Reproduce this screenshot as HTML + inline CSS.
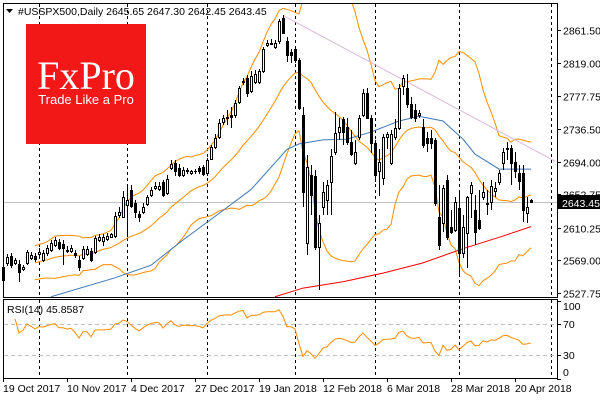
<!DOCTYPE html>
<html><head><meta charset="utf-8"><style>
body{margin:0;background:#fff;}
#wrap{position:relative;width:600px;height:400px;overflow:hidden;font-family:"Liberation Sans",sans-serif;}
svg{position:absolute;left:0;top:0;}
</style></head><body>
<div id="wrap">
<svg id="c" width="600" height="400" xmlns="http://www.w3.org/2000/svg" shape-rendering="crispEdges"></svg>
</div>
<script>
// ---- data (prices) ----
const opens=[2561,2566,2575,2566,2565,2558,2566,2572,2575,2577,2570,2579,2582,2589,2593,2590,2581,2581,2579,2570,2572,2577,2581,2580,2595,2594,2596,2599,2600,2627,2624,2640,2659,2642,2628,2631,2641,2652,2661,2660,2668,2655,2687,2693,2687,2678,2682,2680,2682,2687,2688,2680,2698,2713,2726,2745,2750,2753,2753,2770,2795,2800,2784,2796,2796,2810,2843,2844,2840,2847,2877,2848,2833,2838,2824,2754,2591,2678,2676,2586,2637,2646,2668,2707,2732,2748,2739,2720,2693,2726,2754,2782,2750,2718,2682,2674,2726,2693,2726,2737,2790,2788,2767,2760,2754,2739,2725,2725,2722,2624,2617,2671,2612,2608,2636,2579,2604,2655,2633,2621,2649,2641,2643,2657,2668,2693,2711,2712,2694,2680,2680,2629,2645.65];
const closes=[2544,2574,2563,2570,2555,2561,2580,2576,2571,2580,2579,2585,2591,2595,2585,2585,2582,2585,2576,2561,2584,2584,2570,2598,2599,2599,2600,2602,2626,2630,2649,2646,2638,2630,2624,2637,2650,2659,2664,2664,2652,2673,2692,2682,2678,2684,2684,2683,2683,2682,2679,2697,2713,2725,2744,2750,2751,2751,2769,2788,2797,2782,2803,2806,2809,2837,2845,2845,2845,2873,2858,2830,2830,2824,2763,2656,2688,2652,2586,2617,2656,2665,2701,2731,2739,2732,2720,2704,2707,2750,2781,2750,2718,2678,2694,2726,2729,2730,2737,2788,2800,2767,2751,2750,2756,2716,2718,2718,2642,2589,2661,2599,2605,2643,2579,2612,2649,2665,2605,2610,2656,2642,2664,2661,2680,2707,2712,2693,2682,2670,2633,2637,2643.45];
const highs=[2567,2577,2579,2572,2569,2563,2582,2580,2579,2585,2582,2589,2595,2599,2596,2595,2588,2589,2582,2575,2588,2588,2585,2600,2602,2602,2604,2604,2630,2637,2657,2665,2665,2646,2632,2642,2652,2662,2668,2668,2671,2678,2696,2697,2692,2688,2687,2684,2685,2689,2690,2699,2716,2729,2748,2754,2760,2764,2773,2791,2800,2805,2809,2811,2812,2840,2849,2850,2849,2876,2880,2852,2838,2840,2826,2764,2703,2690,2684,2627,2668,2671,2710,2758,2750,2751,2750,2735,2722,2754,2786,2788,2754,2722,2710,2729,2732,2735,2748,2793,2805,2806,2776,2767,2760,2748,2732,2735,2725,2665,2665,2678,2633,2650,2659,2627,2651,2668,2652,2659,2668,2659,2671,2669,2684,2712,2720,2716,2707,2690,2690,2649,2647.3];
const lows=[2532,2562,2560,2563,2542,2556,2563,2569,2567,2574,2567,2575,2580,2586,2582,2563,2579,2579,2572,2556,2570,2575,2567,2577,2593,2588,2594,2598,2598,2623,2623,2599,2636,2623,2618,2628,2638,2650,2659,2657,2650,2652,2684,2676,2675,2675,2679,2678,2679,2679,2676,2676,2697,2711,2723,2741,2741,2737,2750,2768,2792,2777,2782,2793,2793,2807,2840,2842,2837,2844,2856,2821,2819,2819,2760,2637,2576,2627,2582,2532,2627,2627,2627,2703,2722,2716,2716,2702,2690,2722,2751,2748,2706,2669,2651,2665,2710,2690,2722,2735,2779,2763,2748,2745,2750,2712,2707,2710,2638,2582,2605,2595,2602,2605,2551,2572,2560,2623,2589,2608,2646,2627,2633,2649,2665,2684,2697,2665,2674,2659,2618,2617,2642.45];
// 50-period MA (blue) sampled: bar index / value
const maBlueIdx=[12,28,37,45,53,62,71,74,80,86,92,99,104,110,115,118,124,132];
const maBlueVal=[2523,2547,2563,2595,2625,2659,2710,2717,2722,2723,2732,2746,2752,2746,2723,2704,2685,2685];
// 200-period MA (red) sampled
const maRedIdx=[68,75,85,95,105,115,125,132];
const maRedVal=[2523,2534,2542,2553,2566,2584,2600,2612];
// Trendline endpoints (bar index, price)
const trendIdx=[70,138];
const trendVal=[2880,2695];
const priceTicks=[2861.50,2819.00,2777.75,2736.50,2694.00,2652.75,2610.25,2569.00,2527.75];
const rsiTicks=[100,70,30,0];
const dateLabels=["19 Oct 2017","10 Nov 2017","4 Dec 2017","27 Dec 2017","19 Jan 2018","12 Feb 2018","6 Mar 2018","28 Mar 2018","20 Apr 2018"];
const dateBars=[0,16,32,48,64,80,96,112,128];
const gridBars=[9,31,51,73,93,114,137];

const NS="http://www.w3.org/2000/svg";
const svg=document.getElementById('c');
function mk(tag,attrs,parent){const e=document.createElementNS(NS,tag);for(const k in attrs)e.setAttribute(k,attrs[k]);(parent||svg).appendChild(e);return e;}
const X=i=>3+i*4;
const Y=p=>30+(2861.5-p)*0.788;
const RY=v=>378.5-0.775*v;
const L=3,R=557,T=3,B=297,RT=299,RB=378;

// frames
let f1=mk('rect',{x:L+.5,y:T+.5,width:R-L,height:B-T,fill:'#fff',stroke:'#000'});


let f2=mk('rect',{x:L+.5,y:RT+.5,width:R-L,height:RB-RT,fill:'#fff',stroke:'#000'});



// vertical grid
gridBars.forEach(b=>{const x=Math.round(X(b))+.5;
 let g=mk('line',{x1:x,x2:x,y1:T+1,y2:B,stroke:'#000','stroke-dasharray':'3,3'});
 
 
 let g2=mk('line',{x1:x,x2:x,y1:RT+1,y2:RB,stroke:'#000','stroke-dasharray':'3,3'});
 
 
});

// price ticks
priceTicks.forEach(p=>{const y=Math.round(Y(p))+.5;
 mk('line',{x1:R,x2:R+4,y1:y,y2:y,stroke:'#000'});
 let t=mk('text',{x:563,y:y+4,'font-size':'10.5',fill:'#000'});t.textContent=p.toFixed(2);
 
 
});

// current price line
const last=closes[closes.length-1];
const cy=Math.round(Y(last))+.5;
let cl=mk('line',{x1:L+1,x2:R,y1:cy,y2:cy,stroke:'#c0c0c0'});



// Bollinger bands (20,2) from closes
const up=[],mid=[],lo=[];
for(let i=0;i<closes.length;i++){const s=closes.slice(Math.max(0,i-19),i+1);const m=s.reduce((a,b)=>a+b,0)/s.length;const sd=Math.sqrt(s.reduce((a,b)=>a+(b-m)*(b-m),0)/s.length);mid.push(m);up.push(m+2*sd);lo.push(m-2*sd);}
function poly(idx,vals,color,name,yf){const pts=idx.map((b,k)=>X(b)+','+yf(vals[k])).join(' ');let p=mk('polyline',{points:pts,fill:'none',stroke:color,'stroke-width':1,'shape-rendering':'auto'});return p;}
const clipR=mk('clipPath',{id:'cp'});mk('rect',{x:L+1,y:T+1,width:R-L-1,height:B-T-1},clipR);
const allIdx=closes.map((_,i)=>i);
const start=8;
poly(allIdx.slice(start),up.slice(start),'#ff8c00','bollinger-upper',Y).setAttribute('clip-path','url(#cp)');
poly(allIdx.slice(start),mid.slice(start),'#ff8c00','bollinger-middle',Y).setAttribute('clip-path','url(#cp)');
poly(allIdx.slice(start),lo.slice(start),'#ff8c00','bollinger-lower',Y).setAttribute('clip-path','url(#cp)');
poly(maBlueIdx,maBlueVal,'#3c78b4','moving-average-50',Y).setAttribute('clip-path','url(#cp)');
poly(maRedIdx,maRedVal,'#ff0000','moving-average-200',Y).setAttribute('clip-path','url(#cp)');
poly(trendIdx,trendVal,'#d8b8d8','trend-line',Y).setAttribute('clip-path','url(#cp)');

// candles
for(let i=0;i<closes.length;i++){
 const x=X(i);const o=Y(opens[i]),c=Y(closes[i]),h=Y(highs[i]),l=Y(lows[i]);
 const g=mk('g',{});
 
 
 mk('line',{x1:x+.5,x2:x+.5,y1:Math.round(h),y2:Math.round(l),stroke:'#000'},g);
 const top=Math.round(Math.min(o,c)),bot=Math.round(Math.max(o,c));
 const bull=closes[i]>=opens[i];
 mk('rect',{x:x-.5,y:top+.5,width:2,height:Math.max(bot-top,0.1),fill:bull?'#fff':'#000',stroke:'#000'},g);
}

// price label box
let pb=mk('rect',{x:557,y:cy-7.5,width:43,height:14,fill:'#000'});


let pt=mk('text',{x:562,y:cy+4.5,'font-size':'10.5',fill:'#fff'});pt.textContent=last.toFixed(2);

// RSI
const rsi=[];let ag=0,al=0;
for(let i=1;i<closes.length;i++){const d=closes[i]-closes[i-1];const g=Math.max(d,0),l=Math.max(-d,0);
 if(i<=14){ag+=g/14;al+=l/14;}else{ag=(ag*13+g)/14;al=(al*13+l)/14;}
 rsi.push(i>=3?100-100/(1+ag/(al||1e-9)):null);}
[70,30].forEach(v=>{let d=mk('line',{x1:L+1,x2:R,y1:Math.round(RY(v))+.5,y2:Math.round(RY(v))+.5,stroke:'#c0c0c0','stroke-dasharray':'4,3'});});
const ri=[],rv=[];rsi.forEach((v,k)=>{if(v!==null){ri.push(k+1);rv.push(v);}});
poly(ri,rv,'#ff8c00','rsi-line',RY);
const rsiLab={100:310,70:328,30:359,0:376};
rsiTicks.forEach(v=>{const y=Math.round(RY(v))+.5;mk('line',{x1:R,x2:R+4,y1:y,y2:y,stroke:'#000'});
 let t=mk('text',{x:563,y:rsiLab[v],'font-size':'10.5'});t.textContent=String(v);
 
 });
let rt=mk('text',{x:7,y:313,'font-size':'10.5'});rt.textContent='RSI(14) 45.8587';



// dates
dateLabels.forEach((s,k)=>{const x=X(dateBars[k]);mk('line',{x1:x+.5,x2:x+.5,y1:RB,y2:RB+4,stroke:'#000'});
 let t=mk('text',{x:x,y:392,'font-size':'10.5'});t.textContent=s;
 
 });

// title
let tt=mk('text',{x:18,y:15,'font-size':'10.5',fill:'#000'});tt.textContent='#USSPX500,Daily  2645.65 2647.30 2642.45 2643.45';


let tri=mk('polygon',{points:'6,9 13,9 9.5,13',fill:'#000','shape-rendering':'auto'});



// logo
const lg=mk('g',{});


mk('rect',{x:26,y:24,width:120,height:120,fill:'#f21818'},lg);
let l1=mk('text',{x:86,y:89,'font-size':'40','font-family':'Liberation Serif, serif',fill:'#fff','text-anchor':'middle'},lg);l1.textContent='FxPro';
let l2=mk('text',{x:86,y:104,'font-size':'13',fill:'#fff','text-anchor':'middle'},lg);l2.textContent='Trade Like a Pro';
</script>
</body></html>
